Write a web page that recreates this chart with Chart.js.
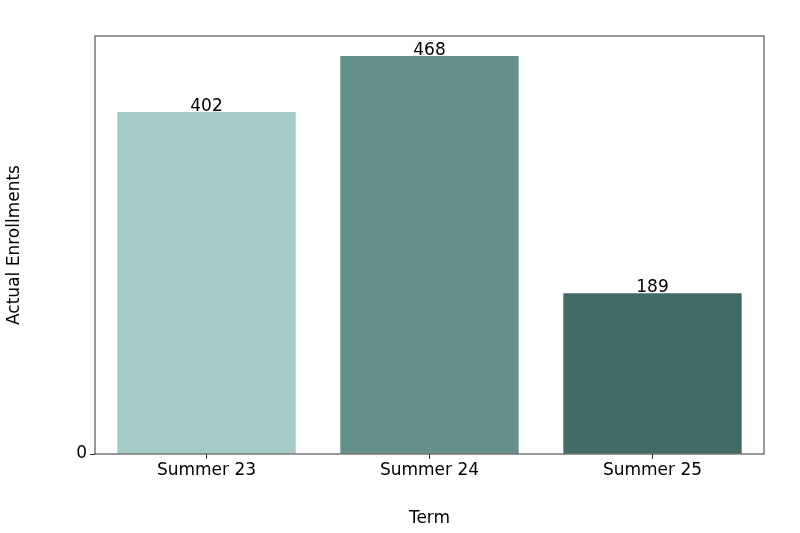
<!DOCTYPE html>
<html><head><meta charset="utf-8">
<script src="https://cdn.jsdelivr.net/npm/chart.js"></script>
<style>body{margin:0;background:#fff}#wrap{width:800px;height:533px}</style>
</head><body><div id="wrap"><canvas id="c"></canvas></div>
<script>
const terms = ["Summer 23", "Summer 24", "Summer 25"];
const enrollments = [402, 468, 189];
const barColors = ["#a5cbc7", "#66908c", "#426a66"];

const FONT = "'DejaVu Sans', sans-serif";
Chart.defaults.font.family = FONT;
Chart.defaults.color = "#000";

const boxAndLabels = {
  id: "boxAndLabels",
  afterDatasetsDraw(chart) {
    const { ctx, chartArea: a } = chart;
    ctx.save();
    ctx.strokeStyle = "#333";
    ctx.lineWidth = 1;
    ctx.strokeRect(a.left, a.top, a.right - a.left, a.bottom - a.top);
    ctx.font = "17px " + FONT;
    ctx.fillStyle = "#000";
    ctx.textAlign = "center";
    ctx.textBaseline = "bottom";
    chart.getDatasetMeta(0).data.forEach((bar, i) => {
      ctx.fillText(enrollments[i], bar.x, bar.y + 3);
    });
    ctx.restore();
  }
};

new Chart(document.getElementById("c"), {
  type: "bar",
  data: {
    labels: terms,
    datasets: [{
      data: enrollments,
      backgroundColor: barColors,
      borderColor: barColors,
      borderWidth: 0,
      categoryPercentage: 1,
      barPercentage: 0.8
    }]
  },
  options: {
    responsive: true,
    maintainAspectRatio: false,
    animation: false,
    layout: { padding: { top: 36, right: 36, left: 0, bottom: 0 } },
    plugins: { legend: { display: false }, tooltip: { enabled: false } },
    scales: {
      x: {
        grid: { drawOnChartArea: false, offset: false, tickLength: 5, color: "#333" },
        border: { display: false },
        ticks: { font: { size: 17 }, padding: 1 },
        title: { display: true, text: "Term", font: { size: 17 }, padding: { top: 0 } },
        afterFit(s) { s.height = 79; }
      },
      y: {
        min: 0, max: 491.4,
        grid: { drawOnChartArea: false, tickLength: 5, color: "#333" },
        border: { display: false },
        ticks: { font: { size: 17 }, stepSize: 100, padding: 3 },
        afterBuildTicks(s) { s.ticks = s.ticks.filter(t => t.value % 100 === 0); },
        title: { display: true, text: "Actual Enrollments", font: { size: 17 }, padding: { bottom: 6 } },
        afterFit(s) { s.width = 95; }
      }
    }
  },
  plugins: [boxAndLabels]
});
</script></body></html>
